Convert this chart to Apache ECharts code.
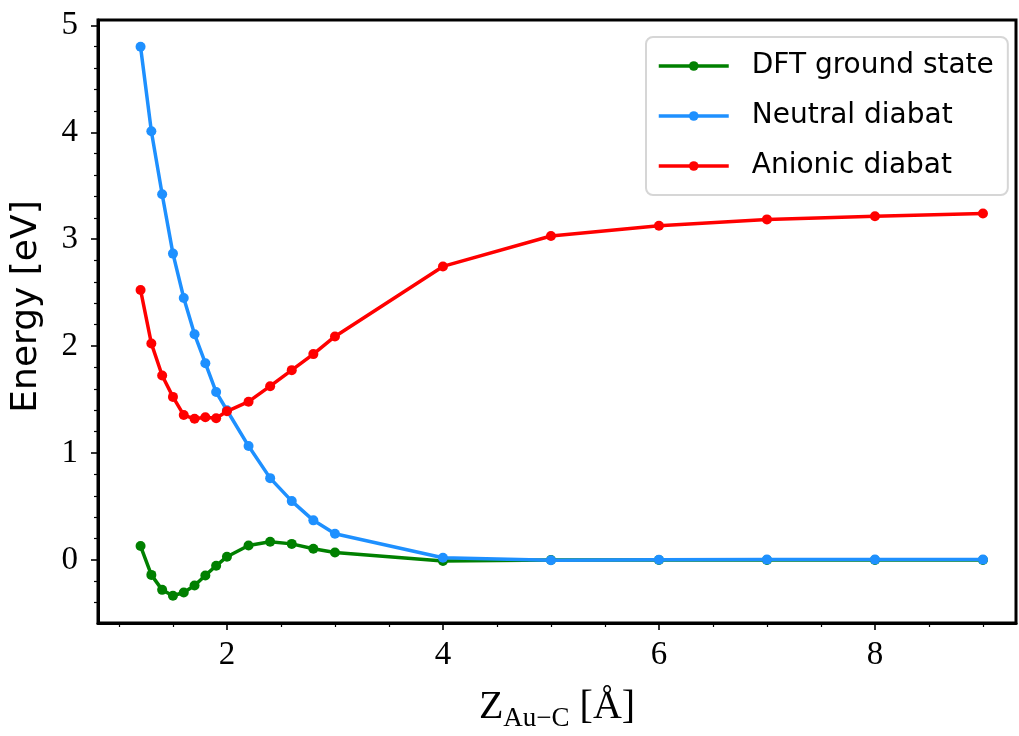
<!DOCTYPE html>
<html>
<head>
<meta charset="utf-8">
<script src="https://cdn.jsdelivr.net/npm/echarts@6/dist/echarts.min.js"></script>
<style>
html,body{margin:0;padding:0;background:#fff;}
#chart{width:1019px;height:736px;}
</style>
</head>
<body>
<div id="chart"></div>
<script>
// Distance Z_Au-C [Å]
const distances = [1.2,1.3,1.4,1.5,1.6,1.7,1.8,1.9,2.0,2.2,2.4,2.6,2.8,3.0,4,5,6,7,8,9];
// Energies [eV]
const dftGround = [0.13,-0.14,-0.28,-0.335,-0.305,-0.24,-0.145,-0.055,0.03,0.135,0.17,0.15,0.105,0.07,-0.01,0.0,0.0,0.0,0.0,0.0];
const neutralDiabat = [4.80,4.01,3.42,2.865,2.45,2.11,1.84,1.57,1.40,1.065,0.765,0.55,0.37,0.245,0.02,-0.003,0.002,0.003,0.003,0.003];
const anionicDiabat = [2.525,2.025,1.725,1.525,1.355,1.32,1.335,1.325,1.39,1.48,1.625,1.775,1.925,2.09,2.745,3.03,3.125,3.185,3.215,3.24];

const xMajor = [2,4,6,8];
const xMinor = [1,1.5,2.5,3,3.5,4.5,5,5.5,6.5,7,7.5,8.5,9];
const yMajor = [0,1,2,3,4,5];
const yMinor = [-0.4,-0.2,0.2,0.4,0.6,0.8,1.2,1.4,1.6,1.8,2.2,2.4,2.6,2.8,3.2,3.4,3.6,3.8,4.2,4.4,4.6,4.8];

const seriesNames = ['DFT ground state','Neutral diabat','Anionic diabat'];
const seriesColors = ['#008000','#1e90ff','#ff0000'];
const seriesValues = [dftGround, neutralDiabat, anionicDiabat];

const XMIN = 0.806, XMAX = 9.306, YMIN = -0.59, YMAX = 5.05;
const tickFont = 'Liberation Serif';

const chart = echarts.init(document.getElementById('chart'), null, {renderer:'canvas'});

const pairs = vals => distances.map((d,i)=>[d, vals[i]]);

chart.setOption({
  animation:false,
  backgroundColor:'#fff',
  grid:{left:98, right:3, top:20, bottom:113, containLabel:false, outerBoundsMode:'none',
        show:true, borderColor:'#000', borderWidth:3, backgroundColor:'transparent'},
  legend:{
    orient:'vertical', left:646, top:37,
    backgroundColor:'#fff', borderColor:'#d6d6d6', borderWidth:2, borderRadius:7,
    padding:[11,14,11,11], itemGap:14, itemWidth:70, itemHeight:12,
    lineStyle:{width:3.5},
    textStyle:{fontFamily:'DejaVu Sans', fontSize:28, color:'#000', lineHeight:36, padding:[0,0,0,18]},
    data:seriesNames
  },
  xAxis:[
    {type:'value', min:XMIN, max:XMAX, position:'bottom',
     name:'{z|Z}{s|Au−C}{z| [Å]}', nameLocation:'middle', nameGap:64,
     nameTextStyle:{rich:{
       z:{fontFamily:tickFont, fontSize:40, color:'#000', verticalAlign:'bottom', padding:[0,0,5,0]},
       s:{fontFamily:tickFont, fontSize:27, color:'#000', verticalAlign:'bottom'}
     }},
     axisLine:{show:true, onZero:false, lineStyle:{color:'#000', width:3}},
     axisTick:{show:true, customValues:xMajor, length:7, lineStyle:{color:'#000', width:1.6}},
     axisLabel:{show:true, customValues:xMajor, margin:16, fontFamily:tickFont, fontSize:33, color:'#000'},
     splitLine:{show:false}},
    {type:'value', min:XMIN, max:XMAX, position:'bottom',
     axisLine:{show:false, onZero:false},
     axisTick:{show:true, customValues:xMinor, length:4, lineStyle:{color:'#000', width:1.2}},
     axisLabel:{show:false}, splitLine:{show:false}}
  ],
  yAxis:[
    {type:'value', min:YMIN, max:YMAX, position:'left',
     name:'Energy [eV]', nameLocation:'middle', nameGap:53,
     nameTextStyle:{fontFamily:'DejaVu Sans', fontSize:36, color:'#000', padding:[0,0,0,30]},
     axisLine:{show:true, onZero:false, lineStyle:{color:'#000', width:3}},
     axisTick:{show:true, customValues:yMajor, length:7, lineStyle:{color:'#000', width:1.6}},
     axisLabel:{show:true, customValues:yMajor, margin:20, fontFamily:tickFont, fontSize:33, color:'#000'},
     splitLine:{show:false}},
    {type:'value', min:YMIN, max:YMAX, position:'left',
     axisLine:{show:false, onZero:false},
     axisTick:{show:true, customValues:yMinor, length:4, lineStyle:{color:'#000', width:1.2}},
     axisLabel:{show:false}, splitLine:{show:false}}
  ],
  series: seriesNames.map((n,k)=>({
    name:n, type:'line', xAxisIndex:0, yAxisIndex:0,
    data:pairs(seriesValues[k]),
    symbol:'circle', symbolSize:10, showAllSymbol:true,
    lineStyle:{color:seriesColors[k], width:3.5},
    itemStyle:{color:seriesColors[k]},
    emphasis:{disabled:true}, z:2+k
  }))
});
</script>
</body>
</html>
